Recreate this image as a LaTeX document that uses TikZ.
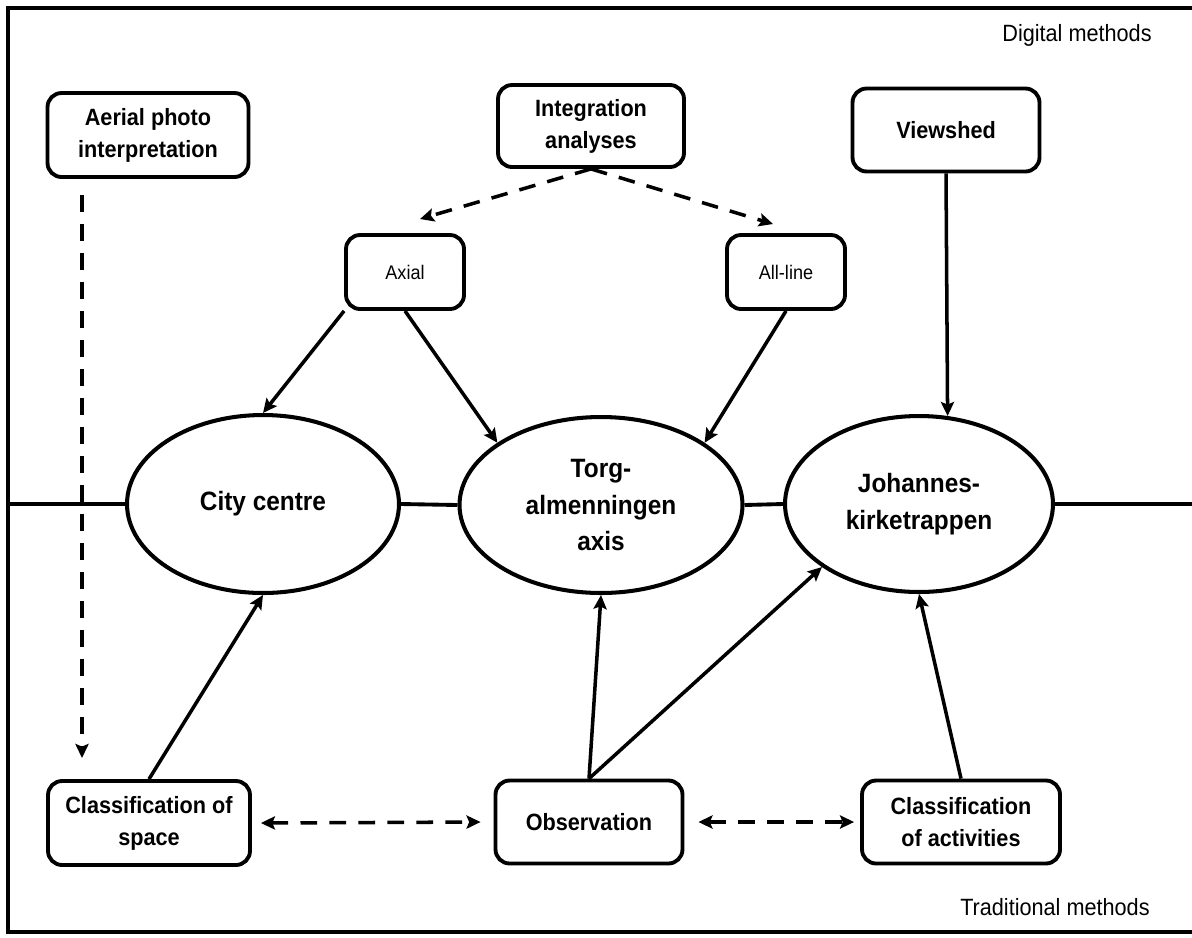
\documentclass[tikz,border=0pt]{standalone}
\usepackage{fontspec}
\setmainfont[FakeStretch=0.92]{Liberation Sans}
\usetikzlibrary{arrows.meta,shapes.geometric}
\begin{document}
\begin{tikzpicture}[x=0.02cm,y=-0.02cm,
  box/.style={draw, line width=2.2pt, rounded corners=8pt, align=center, inner sep=0pt,
    font=\fontsize{13.4}{18.2}\selectfont\bfseries, fill=white},
  sbox/.style={draw, line width=2.2pt, rounded corners=8pt, align=center, inner sep=0pt,
    font=\fontsize{11.2}{14}\selectfont, fill=white, minimum width=2.36cm, minimum height=1.48cm},
  ell/.style={draw, ellipse, line width=2.3pt, inner sep=0pt, align=center,
    font=\fontsize{15.1}{20.9}\selectfont\bfseries, fill=white},
  tip/.style={Stealth[length=8pt,width=7.5pt,inset=1.5pt]},
  arr/.style={line width=2pt, -{Stealth[length=8pt,width=7.5pt,inset=1.5pt]}},
  darr/.style={arr, dash pattern=on 9.5pt off 7pt},
  ddarr/.style={line width=2pt, dash pattern=on 9.5pt off 7pt,
    {Stealth[length=8pt,width=7.5pt,inset=1.5pt]}-{Stealth[length=8pt,width=7.5pt,inset=1.5pt]}},
  midline/.style={line width=2.2pt},
  lbl/.style={font=\fontsize{13.4}{16}\selectfont, inner sep=0pt}
]
\useasboundingbox (0,0) rectangle (1192,937);
% frame
\draw[line width=2.8pt] (1192,8) -- (8,8) -- (8,932) -- (1192,932);
\node[lbl, anchor=base east] (dig) at (1152,41) {Digital methods};
\node[lbl, anchor=base east] (trad) at (1150,915) {Traditional methods};

% top boxes
\node[box, minimum width=4.02cm, minimum height=1.68cm] (aerial) at (148,135) {Aerial photo\\interpretation};
\node[box, minimum width=3.72cm, minimum height=1.64cm] (integ) at (591,126) {Integration\\analyses};
\node[box, minimum width=3.74cm, minimum height=1.66cm] (view) at (946,130) {Viewshed};
\node[sbox] (axial) at (405,272) {Axial};
\node[sbox] (allline) at (786,272) {All-line};

% ellipses
\node[ell, minimum width=5.44cm, minimum height=3.56cm] (city) at (263,504) {City centre};
\node[ell, minimum width=5.66cm, minimum height=3.52cm] (torg) at (601,505) {Torg-\\almenningen\\axis};
\node[ell, minimum width=5.36cm, minimum height=3.52cm] (john) at (919,504) {Johannes-\\kirketrappen};

% bottom boxes
\node[box, minimum width=4.04cm, minimum height=1.68cm] (cspace) at (149,823) {Classification of\\space};
\node[box, minimum width=3.74cm, minimum height=1.66cm] (obs) at (589,822) {Observation};
\node[box, minimum width=3.96cm, minimum height=1.66cm] (act) at (961,822) {Classification\\of activities};

% middle horizontal line
\coordinate (ml) at (8,504);
\coordinate (mr) at (1192,504);
\draw[midline] (ml) -- (city.west);
\draw[midline] (city.east) -- (torg.west);
\draw[midline] (torg.east) -- (john.west);
\draw[midline] (john.east) -- (mr);

% dashed arrows from top
\coordinate (aerialout) at (82,195);
\coordinate (aerialin) at (82,758);
\draw[darr] (aerialout) -- (aerialin);
\coordinate (ia) at (420,219);
\coordinate (ib) at (773,224);
\draw[darr] (integ.south) -- (ia);
\draw[darr] (integ.south) -- (ib);

% solid arrows
\draw[arr] (axial.south west) -- (city.north);
\draw[arr] (axial.south) -- (torg.149);
\draw[arr] (allline.south) -- (torg.31);
\draw[arr] (view.south) -- (john.72);
\draw[arr] (cspace.north) -- (city.south);
\draw[arr] (obs.north) -- (torg.south);
\draw[arr] (obs.north) -- (john.213);
\draw[arr] (act.north) -- (john.south);

% bottom dashed double arrows
\draw[ddarr] ([xshift=0.18cm]cspace.east) -- ([xshift=-0.26cm]obs.west);
\draw[ddarr] ([xshift=0.28cm]obs.east) -- ([xshift=-0.12cm]act.west);
\end{tikzpicture}
\end{document}
